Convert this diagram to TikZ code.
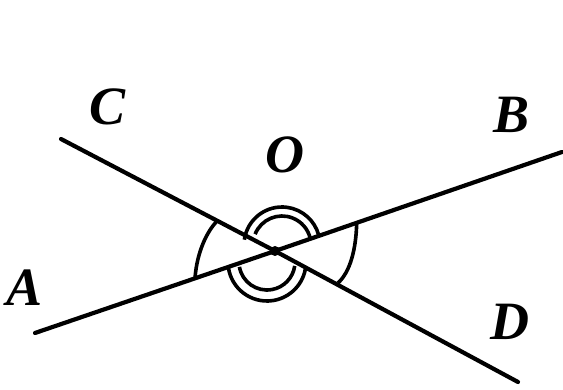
\documentclass[tikz,border=0pt]{standalone}
\usepackage{fontspec}
\setmainfont{Liberation Serif}
\begin{document}
\begin{tikzpicture}[x=0.5pt,y=-0.5pt,
  ray/.style={line width=2.1pt,line cap=round},
  anglemark/.style={line width=1.8pt},
  lbl/.style={font=\fontsize{27}{30}\selectfont\bfseries\itshape}]
\useasboundingbox (0,0) rectangle (563,390);
% points
\coordinate (O) at (275,251);
\coordinate (Aend) at (35,333);
\coordinate (Bend) at (562,152);
\coordinate (Cend) at (61,139);
\coordinate (Dend) at (518,382);
% labels
\node[lbl] (A) at (25,288) {A};
\node[lbl] (B) at (512,115) {B};
\node[lbl] (C) at (108,107) {C};
\node[lbl] (D) at (510,322) {D};
\node[lbl] (Olbl) at (285,155) {O};
% lines
\draw[ray] (Aend) -- (O) -- (Bend);
\draw[ray] (Cend) -- (O) -- (Dend);
% large angle marks
\draw[anglemark] (356.7,223) .. controls (356,250) and (350,272) .. (338,283);
\draw[anglemark] (217,221) .. controls (203,236) and (196,260) .. (195,279);
% double arcs above
\coordinate (cu) at (282,245);
\coordinate (cl) at (267,262);
\draw[anglemark] ([shift={(188:38)}]cu) arc[start angle=188,end angle=345,radius=38];
\draw[anglemark] ([shift={(202:29)}]cu) arc[start angle=202,end angle=347,radius=29];
% double arcs below
\draw[anglemark] ([shift={(172:39)}]cl) arc[start angle=172,end angle=6,radius=39];
\draw[anglemark] ([shift={(170:28)}]cl) arc[start angle=170,end angle=8,radius=28];
% point O
\fill (O) circle[radius=5];
\end{tikzpicture}
\end{document}
